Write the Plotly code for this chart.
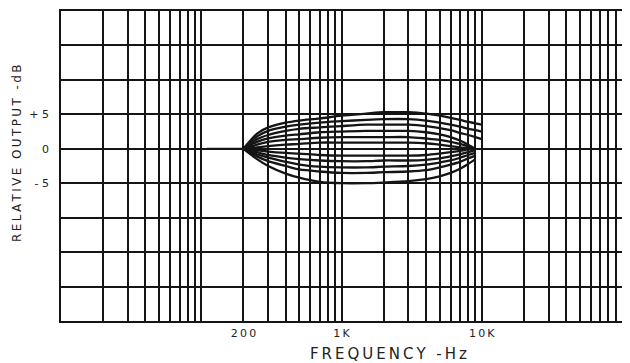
import plotly.graph_objects as go

# frequency points (Hz) where the response curves were read
freq = [200, 250, 300, 400, 500, 700, 1000, 1500, 2000, 3000, 4000,
        5000, 6000, 7000, 8000, 9000, 10000]

# boost curves (dB)
boost_6 = [0, 2.2, 3.1, 3.8, 4.1, 4.4, 4.8, 5.1, 5.3, 5.3, 5.1, 4.8, 4.5, 4.2, 3.9, 3.7, 3.5]
boost_5 = [0, 1.8, 2.6, 3.2, 3.5, 3.8, 4.0, 4.2, 4.3, 4.3, 4.1, 3.8, 3.5, 3.2, 2.9, 2.7, 2.5]
boost_4 = [0, 1.4, 2.0, 2.6, 2.9, 3.1, 3.3, 3.5, 3.5, 3.5, 3.3, 3.0, 2.7, 2.3, 2.0, 1.7, 1.4]
boost_3 = [0, 1.0, 1.5, 1.9, 2.1, 2.4, 2.5, 2.6, 2.6, 2.6, 2.4, 2.1, 1.7, 1.2, 0.6, 0.0]
boost_2 = [0, 0.6, 1.0, 1.3, 1.4, 1.6, 1.7, 1.7, 1.7, 1.7, 1.5, 1.3, 1.0, 0.7, 0.35, 0.0]
boost_1 = [0, 0.2, 0.4, 0.6, 0.7, 0.9, 0.9, 0.9, 0.9, 0.9, 0.8, 0.6, 0.4, 0.2, 0.1, 0.0]

# cut curves (dB)
cut_1 = [0, -0.2, -0.4, -0.6, -0.7, -0.9, -1.0, -1.0, -1.0, -1.0, -0.9, -0.7, -0.5, -0.3, -0.1, 0.0]
cut_2 = [0, -0.5, -0.9, -1.3, -1.5, -1.7, -1.8, -1.8, -1.7, -1.7, -1.6, -1.4, -1.1, -0.8, -0.5, -0.2]
cut_3 = [0, -0.8, -1.3, -1.9, -2.3, -2.6, -2.7, -2.7, -2.6, -2.5, -2.3, -2.0, -1.7, -1.3, -0.9, -0.6]
cut_4 = [0, -1.1, -1.8, -2.5, -3.0, -3.3, -3.5, -3.5, -3.4, -3.3, -3.1, -2.7, -2.3, -1.9, -1.4, -1.0]
cut_5 = [0, -1.5, -2.5, -3.6, -4.2, -4.8, -5.0, -5.0, -4.9, -4.7, -4.4, -4.0, -3.5, -2.9, -2.2, -1.5]

# flat lead-in below 200 Hz
flat_freq = [110, 200]
flat_db = [0, 0]

y_ticks = [-25, -20, -15, -10, -5, 0, 5, 10, 15, 20]
y_labels = ["", "", "", "", "- 5", "0", "+ 5", "", "", ""]
x_labels = {200: "200", 1000: "1K", 10000: "10K"}

curves = [boost_6, boost_5, boost_4, boost_3, boost_2, boost_1,
          cut_1, cut_2, cut_3, cut_4, cut_5]


def spaced(s):
    # old stencil lettering is widely spaced
    return "\u2009".join(s)


ink = "#151515"
fig = go.Figure()
fig.add_trace(go.Scatter(x=flat_freq, y=flat_db, mode="lines",
                         line=dict(color=ink, width=2.2)))
for c in curves:
    fig.add_trace(go.Scatter(x=freq[:len(c)], y=c, mode="lines",
                             line=dict(color=ink, width=2.3, shape="spline", smoothing=0.8)))

x_ticks = [m * 10 ** d for d in range(1, 5) for m in range(1, 10)] + [100000]

# page body has an 8px margin, so the figure is a bit smaller than the window
fig.update_layout(
    width=622, height=355,
    margin=dict(l=53, r=8, t=3, b=42),
    paper_bgcolor="white", plot_bgcolor="white",
    showlegend=False,
    font=dict(family="DejaVu Sans", size=11, color="#222"),
)
fig.update_xaxes(
    type="log", range=[1, 5], automargin=False,
    tickvals=x_ticks, ticktext=[spaced(x_labels.get(v, "")) for v in x_ticks],
    showgrid=True, gridcolor=ink, gridwidth=1.5,
    showline=True, linecolor=ink, linewidth=1.6, mirror=True,
    ticks="", ticklabelstandoff=1, zeroline=False,
)
fig.update_yaxes(
    range=[-25, 20], tickvals=y_ticks, ticktext=y_labels, automargin=False,
    showgrid=True, gridcolor=ink, gridwidth=1.5,
    showline=True, linecolor=ink, linewidth=1.6, mirror=True,
    ticks="", ticklabelstandoff=8, zeroline=False,
)

fig.add_annotation(text=spaced("RELATIVE OUTPUT -dB"), xref="paper", yref="paper",
                   x=0, y=0.539, xshift=-44, xanchor="center", yanchor="middle",
                   textangle=-90, showarrow=False,
                   font=dict(size=12, color="#222"))
fig.add_annotation(text=spaced("FREQUENCY -Hz"), xref="paper", yref="paper",
                   x=0.583, y=-0.106, xanchor="center", yanchor="middle",
                   showarrow=False, font=dict(size=15, color="#222"))

fig.write_html("out.html")
